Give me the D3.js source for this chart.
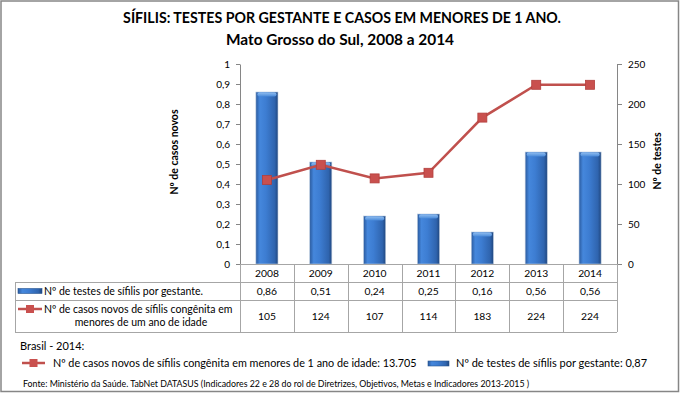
<!DOCTYPE html>
<html>
<head>
<meta charset="utf-8">
<script src="https://cdn.jsdelivr.net/npm/d3@7"></script>
<style>
  body { margin: 0; background: #fff; }
  svg text { font-family: Lato, "Open Sans", sans-serif; fill: #000; }
  .axis path, .axis line { stroke: #868686; }
  .axis text { font-size: 10px; }
  .grid line { stroke: #a6a6a6; shape-rendering: crispEdges; }
</style>
</head>
<body>
<div id="chart"></div>
<script>
// chart data
var years = ["2008", "2009", "2010", "2011", "2012", "2013", "2014"];
var testes = [0.86, 0.51, 0.24, 0.25, 0.16, 0.56, 0.56];   // Nº de testes por gestante (left axis)
var casos = [105, 124, 107, 114, 183, 224, 224];           // Nº de casos novos (right axis)
var leftTicks = [0, 0.1, 0.2, 0.3, 0.4, 0.5, 0.6, 0.7, 0.8, 0.9, 1];
var rightTicks = [0, 50, 100, 150, 200, 250];

var W = 680, H = 393;
var plot = {left: 240, right: 617, top: 64, bottom: 264};
var tableLeft = 15, rowY = [264, 282, 300, 332];

var locale = d3.formatLocale({decimal: ",", thousands: ".", grouping: [3], currency: ["R$", ""]});
var fmt = locale.format(",.2f");
var fmtTick = function (d) { return String(d).replace(".", ","); };

var svg = d3.select("#chart").append("svg")
    .attr("width", W)
    .attr("height", H);

// outer border
svg.append("rect")
    .attr("x", 1).attr("y", 1)
    .attr("width", W - 2.5).attr("height", H - 2.5)
    .attr("fill", "#fff")
    .attr("stroke", "#868686")
    .attr("stroke-width", 1.5);

var defs = svg.append("defs");
var grad = defs.append("linearGradient").attr("id", "barGrad")
    .attr("x1", "0%").attr("x2", "100%").attr("y1", "0%").attr("y2", "0%");
grad.append("stop").attr("offset", "0%").attr("stop-color", "#2a5a9e");
grad.append("stop").attr("offset", "18%").attr("stop-color", "#4587dc");
grad.append("stop").attr("offset", "45%").attr("stop-color", "#3d7dd2");
grad.append("stop").attr("offset", "85%").attr("stop-color", "#2f64ae");
grad.append("stop").attr("offset", "100%").attr("stop-color", "#20477f");

var capGrad = defs.append("linearGradient").attr("id", "capGrad")
    .attr("x1", "0%").attr("x2", "0%").attr("y1", "0%").attr("y2", "100%");
capGrad.append("stop").attr("offset", "0%").attr("stop-color", "#8fbdf0");
capGrad.append("stop").attr("offset", "100%").attr("stop-color", "#4a8ad9");

// title
svg.append("text")
    .attr("x", 342).attr("y", 23)
    .attr("text-anchor", "middle")
    .style("font-size", "14.2px").style("font-weight", "bold")
    .text("SÍFILIS: TESTES POR GESTANTE E CASOS EM MENORES DE 1 ANO.");
svg.append("text")
    .attr("x", 340).attr("y", 45)
    .attr("text-anchor", "middle")
    .style("font-size", "15.4px").style("font-weight", "bold")
    .text("Mato Grosso do Sul, 2008 a 2014");

// scales
var x = d3.scaleBand()
    .domain(years)
    .range([plot.left, plot.right]);

var yL = d3.scaleLinear()
    .domain([0, 1])
    .range([plot.bottom, plot.top]);

var yR = d3.scaleLinear()
    .domain([0, 250])
    .range([plot.bottom, plot.top]);

var barW = x.bandwidth() * 0.41;

// bars
var bars = svg.append("g").selectAll("g")
    .data(years)
    .enter().append("g");

bars.append("rect")
    .attr("x", function (d) { return x(d) + (x.bandwidth() - barW) / 2; })
    .attr("y", function (d, i) { return yL(testes[i]); })
    .attr("width", barW)
    .attr("height", function (d, i) { return plot.bottom - yL(testes[i]); })
    .attr("fill", "url(#barGrad)")
    .attr("stroke", "#b9c9dd")
    .attr("stroke-width", 0.6);

bars.append("rect")
    .attr("x", function (d) { return x(d) + (x.bandwidth() - barW) / 2 + 1.5; })
    .attr("y", function (d, i) { return yL(testes[i]) + 0.5; })
    .attr("width", barW - 3)
    .attr("height", 4)
    .attr("rx", 2)
    .attr("fill", "url(#capGrad)");

// left axis
svg.append("g")
    .attr("class", "axis")
    .attr("transform", "translate(" + plot.left + ",0)")
    .call(d3.axisLeft(yL).tickValues(leftTicks).tickSize(4).tickSizeOuter(0).tickPadding(6).tickFormat(fmtTick));

// right axis
svg.append("g")
    .attr("class", "axis")
    .attr("transform", "translate(" + plot.right + ",0)")
    .call(d3.axisRight(yR).tickValues(rightTicks).tickSize(5).tickSizeOuter(0).tickPadding(6));

// axis titles
svg.append("text")
    .attr("transform", "translate(178,152) rotate(-90)")
    .attr("text-anchor", "middle")
    .style("font-size", "10.5px").style("font-weight", "bold")
    .text("Nº de casos  novos");
svg.append("text")
    .attr("transform", "translate(661,161) rotate(-90)")
    .attr("text-anchor", "middle")
    .style("font-size", "10.5px").style("font-weight", "bold")
    .text("Nº de testes");

// line
var line = d3.line()
    .x(function (d, i) { return x(years[i]) + x.bandwidth() / 2; })
    .y(function (d) { return yR(d); });

svg.append("path")
    .datum(casos)
    .attr("fill", "none")
    .attr("stroke", "#c0504d")
    .attr("stroke-width", 2.5)
    .attr("d", line);

svg.append("g").selectAll("rect")
    .data(casos)
    .enter().append("rect")
    .attr("x", function (d, i) { return x(years[i]) + x.bandwidth() / 2 - 4.5; })
    .attr("y", function (d) { return yR(d) - 4.5; })
    .attr("width", 9)
    .attr("height", 9)
    .attr("fill", "#c9504e")
    .attr("stroke", "#b33f3c")
    .attr("stroke-width", 0.8);

// data table
var grid = svg.append("g").attr("class", "grid");
grid.append("line")
    .attr("x1", plot.left).attr("x2", plot.right)
    .attr("y1", rowY[0] + 0.5).attr("y2", rowY[0] + 0.5);
[1, 2, 3].forEach(function (r) {
    grid.append("line")
        .attr("x1", tableLeft).attr("x2", plot.right)
        .attr("y1", rowY[r] + 0.5).attr("y2", rowY[r] + 0.5);
});
grid.append("line")
    .attr("x1", tableLeft + 0.5).attr("x2", tableLeft + 0.5)
    .attr("y1", rowY[1]).attr("y2", rowY[3]);
years.concat(["end"]).forEach(function (d) {
    var xx = d === "end" ? plot.right : x(d);
    grid.append("line")
        .attr("x1", Math.round(xx) + 0.5).attr("x2", Math.round(xx) + 0.5)
        .attr("y1", rowY[0]).attr("y2", rowY[3]);
});

var cells = svg.append("g").style("font-size", "10.3px").attr("text-anchor", "middle");
years.forEach(function (d, i) {
    var cx = x(d) + x.bandwidth() / 2;
    cells.append("text").attr("x", cx).attr("y", 277).text(d);
    cells.append("text").attr("x", cx).attr("y", 295).text(fmt(testes[i]));
    cells.append("text").attr("x", cx).attr("y", 320).text(casos[i]);
});

// row legends
function barKey(g, x0, y0, w) {
    g.append("rect")
        .attr("x", x0).attr("y", y0)
        .attr("width", w).attr("height", 5)
        .attr("fill", "url(#barGrad)")
        .attr("stroke", "#27548f")
        .attr("stroke-width", 0.6);
}
function lineKey(g, x0, y0, w) {
    g.append("line")
        .attr("x1", x0).attr("x2", x0 + w)
        .attr("y1", y0).attr("y2", y0)
        .attr("stroke", "#c0504d").attr("stroke-width", 2.5);
    g.append("rect")
        .attr("x", x0 + w / 2 - 4).attr("y", y0 - 4)
        .attr("width", 8).attr("height", 8)
        .attr("fill", "#c9504e");
}

var keys = svg.append("g");
barKey(keys, 18, 288.5, 24);
keys.append("text").attr("x", 44).attr("y", 295).style("font-size", "10.5px")
    .text("Nº de testes de sífilis por gestante.");
lineKey(keys, 18, 309, 24);
keys.append("text").attr("x", 44).attr("y", 313).style("font-size", "10.5px")
    .text("Nº de casos novos de sífilis congênita em");
keys.append("text").attr("x", 141).attr("y", 326).attr("text-anchor", "middle").style("font-size", "10.5px")
    .text("menores de um ano de idade");

// Brasil reference
svg.append("text").attr("x", 20).attr("y", 350).style("font-size", "11px")
    .text("Brasil - 2014:");
lineKey(keys, 22, 363, 23);
svg.append("text").attr("x", 53).attr("y", 367).style("font-size", "10.8px")
    .text("Nº de casos novos de sífilis congênita em menores de 1 ano de idade: 13.705");
barKey(keys, 428, 361, 21);
svg.append("text").attr("x", 456).attr("y", 367).style("font-size", "11px")
    .text("Nº de testes de sífilis por gestante: 0,87");

// source
svg.append("text").attr("x", 23).attr("y", 387).style("font-size", "8.8px")
    .text("Fonte: Ministério da Saúde. TabNet DATASUS (Indicadores 22 e 28 do rol de Diretrizes, Objetivos, Metas e Indicadores 2013-2015 )");
</script>
</body>
</html>
